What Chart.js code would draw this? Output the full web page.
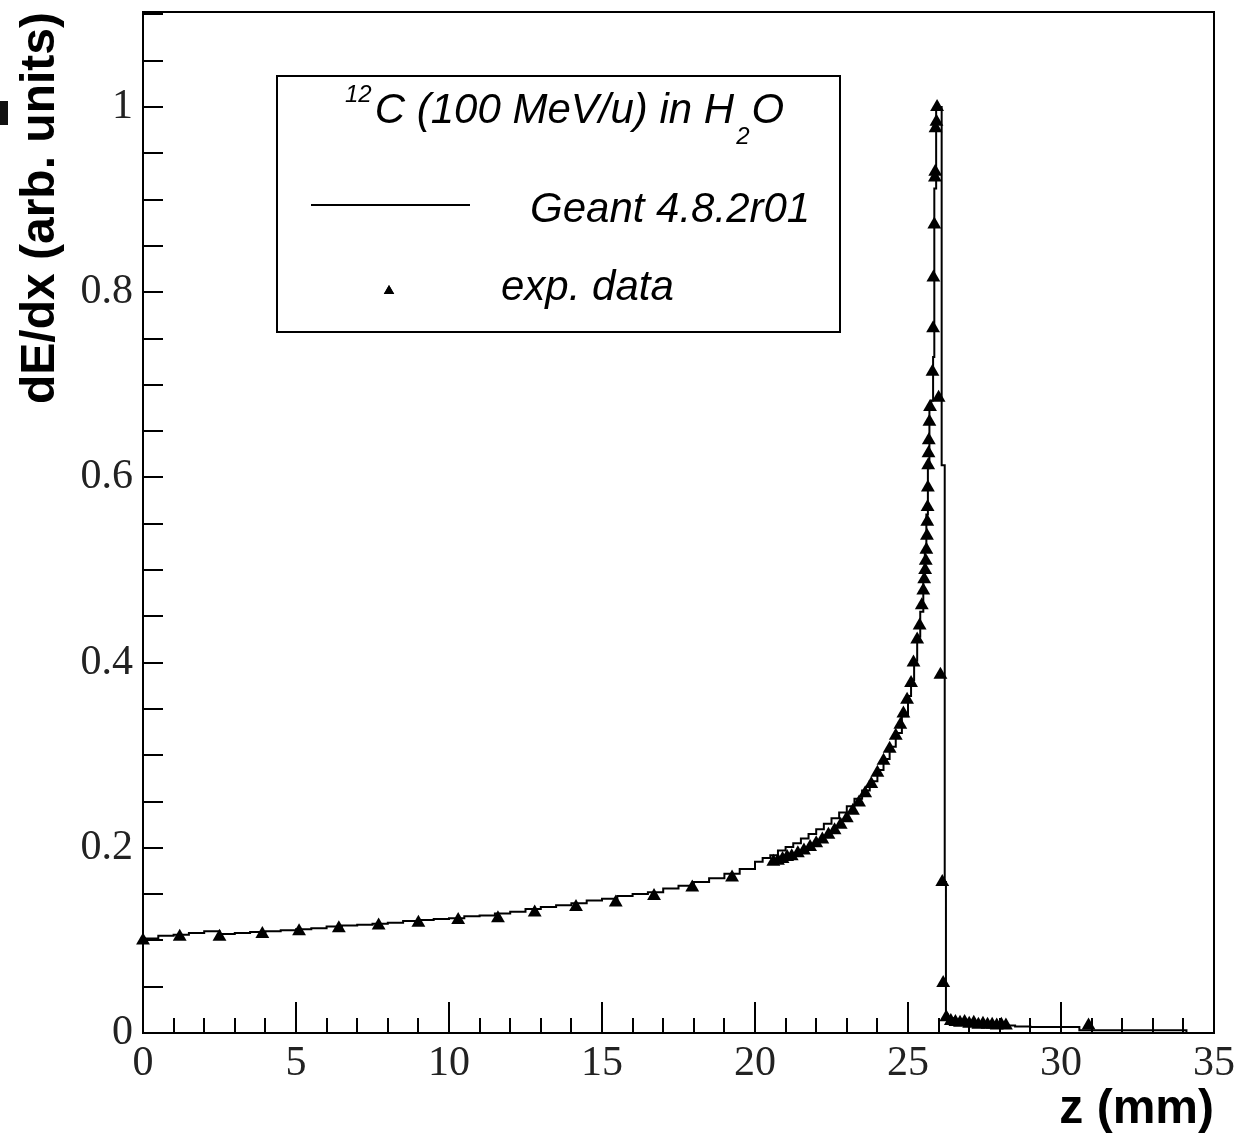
<!DOCTYPE html>
<html>
<head>
<meta charset="utf-8">
<script src="https://cdn.jsdelivr.net/npm/chart.js@4/dist/chart.umd.min.js"></script>
<style>
  html, body { margin: 0; padding: 0; background: #fff; }
  #wrap { width: 1241px; height: 1139px; position: relative; }
</style>
</head>
<body>
<div id="wrap"><canvas id="braggChart"></canvas></div>
<script>
// Geant histogram: low bin edges (mm) and bin contents
const geantEdges = [
    0, 0.5, 1, 1.5, 2, 2.5, 3, 3.5, 4, 4.5, 5, 5.5, 6, 6.5, 7, 7.5, 8, 8.5, 9, 9.5,
    10, 10.5, 11, 11.5, 12, 12.5, 13, 13.5, 14, 14.5, 15, 15.5, 16, 16.5, 17, 17.5, 18, 18.5, 19, 19.5,
    20, 20.25, 20.5, 20.75, 21, 21.25, 21.5, 21.75, 22, 22.25, 22.5, 22.75, 23, 23.25, 23.5, 23.75, 24,
    24.2, 24.4, 24.6, 24.8, 25, 25.1, 25.2, 25.3, 25.4, 25.5,
    25.55, 25.6, 25.65, 25.7, 25.76, 25.82, 25.86, 25.92,
    26.1, 26.2, 26.24, 26.3, 26.5, 27, 27.5, 28, 28.5, 29, 30.6, 34.1, 35
];
const geantValues = [
    0.102, 0.105, 0.106, 0.108, 0.110, 0.107, 0.108, 0.109, 0.110, 0.111,
    0.112, 0.113, 0.115, 0.116, 0.117, 0.118, 0.119, 0.121, 0.122, 0.123,
    0.124, 0.126, 0.127, 0.129, 0.131, 0.134, 0.136, 0.138, 0.140, 0.143,
    0.145, 0.148, 0.150, 0.152, 0.156, 0.159, 0.163, 0.167, 0.172, 0.177,
    0.185, 0.189, 0.192, 0.197, 0.201, 0.205, 0.210, 0.215, 0.220, 0.226, 0.232, 0.238, 0.245, 0.253, 0.262, 0.272, 0.284,
    0.296, 0.309, 0.324, 0.342, 0.364, 0.381, 0.402, 0.428, 0.455, 0.490,
    0.520, 0.560, 0.610, 0.675, 0.683, 0.730, 0.912, 1.0,
    0.613, 0.163, 0.020, 0.016, 0.014, 0.012, 0.010, 0.008, 0.007, 0.0065, 0.003, 0.0, 0.0
];

// donnees experimentales
const expZ = [
    0.0, 1.2, 2.5, 3.9, 5.1, 6.4, 7.7, 9.0, 10.3, 11.6, 12.8, 14.15, 15.45, 16.7, 17.95, 19.25,
    20.6, 20.75, 20.9, 21.05, 21.2, 21.4, 21.6, 21.8, 22.0, 22.2, 22.4, 22.6, 22.8, 23.0, 23.2,
    23.4, 23.6, 23.8, 24.0, 24.2, 24.4, 24.6, 24.75, 24.85, 24.97, 25.1, 25.18, 25.3, 25.38, 25.45,
    25.5, 25.53, 25.56, 25.58, 25.6, 25.62, 25.63, 25.64, 25.65, 25.66, 25.67, 25.68, 25.7, 25.72,
    25.8, 25.82, 25.83, 25.86, 25.88, 25.89, 25.9, 25.93, 25.95,
    26.0, 26.06, 26.12, 26.15,
    26.25, 26.4, 26.55, 26.7, 26.85, 27.0, 27.15, 27.3, 27.45, 27.6, 27.75, 27.9, 28.05, 28.2, 30.9
];
const expValues = [
    0.100, 0.104, 0.104, 0.107, 0.110, 0.113, 0.116, 0.119, 0.122, 0.124, 0.130, 0.136, 0.141, 0.148, 0.157, 0.168,
    0.185, 0.186, 0.188, 0.190, 0.191, 0.194, 0.197, 0.201, 0.205, 0.209, 0.214, 0.219, 0.225, 0.232, 0.240,
    0.249, 0.259, 0.269, 0.281, 0.294, 0.307, 0.321, 0.333, 0.345, 0.360, 0.378, 0.400, 0.425, 0.440, 0.462,
    0.478, 0.490, 0.500, 0.510, 0.522, 0.537, 0.552, 0.568, 0.589, 0.613, 0.626, 0.640, 0.660, 0.676,
    0.714, 0.761, 0.816, 0.873, 0.924, 0.930, 0.977, 0.984, 1.0,
    0.686, 0.387, 0.163, 0.054,
    0.017, 0.013, 0.012, 0.011, 0.012, 0.010, 0.011, 0.009, 0.010, 0.009, 0.009, 0.008, 0.009, 0.008, 0.008
];

const xTicks = [0, 5, 10, 15, 20, 25, 30, 35];
const yTicks = [0, 0.2, 0.4, 0.6, 0.8, 1];

const serif = "'Liberation Serif', 'Times New Roman', serif";
const sans = "'Liberation Sans', Arial, sans-serif";

// cadre + graduations vers l'interieur (style ROOT)
const cadrePlugin = {
    id: 'cadre',
    afterDatasetsDraw(chart) {
        const {ctx, chartArea: a, scales: {x, y}} = chart;
        ctx.save();
        ctx.strokeStyle = '#000';
        ctx.lineWidth = 2;
        ctx.strokeRect(a.left, a.top, a.right - a.left, a.bottom - a.top);
        ctx.beginPath();
        for (let v = x.min; v <= x.max; v += 1) {
            const px = Math.round(x.getPixelForValue(v));
            const len = v % 5 === 0 ? 31 : 15;
            ctx.moveTo(px, a.bottom);
            ctx.lineTo(px, a.bottom - len);
        }
        for (let i = 0; i * 0.05 <= y.max; i++) {
            const py = Math.round(y.getPixelForValue(i * 0.05));
            ctx.moveTo(a.left, py);
            ctx.lineTo(a.left + 20, py);
        }
        ctx.stroke();
        // petit carre noir en marge (present sur l'original)
        ctx.fillStyle = '#111';
        ctx.fillRect(0, 101, 8, 24);
        ctx.restore();
    }
};

// legende encadree
const legendePlugin = {
    id: 'legende',
    afterDraw(chart) {
        const ctx = chart.ctx;
        const ds = chart.data.datasets;
        ctx.save();
        ctx.fillStyle = '#fff';
        ctx.fillRect(277, 76, 563, 256);
        ctx.strokeStyle = '#000';
        ctx.lineWidth = 2;
        ctx.strokeRect(277, 76, 563, 256);

        ctx.fillStyle = '#000';
        ctx.textBaseline = 'alphabetic';
        ctx.textAlign = 'left';
        const big = 'italic 42px ' + sans;
        const small = 'italic 24px ' + sans;
        // titre : 12C (100 MeV/u) in H2O
        ctx.font = small;
        ctx.fillText('12', 345, 102);
        let xx = 345 + ctx.measureText('12').width + 3;
        ctx.font = big;
        const t1 = 'C (100 MeV/u) in H';
        ctx.fillText(t1, xx, 123);
        xx += ctx.measureText(t1).width + 2;
        ctx.font = small;
        ctx.fillText('2', xx, 144);
        xx += ctx.measureText('2').width + 2;
        ctx.font = big;
        ctx.fillText('O', xx, 123);

        // ligne Geant
        ctx.strokeStyle = ds[0].borderColor;
        ctx.lineWidth = ds[0].borderWidth;
        ctx.beginPath();
        ctx.moveTo(311, 205);
        ctx.lineTo(470, 205);
        ctx.stroke();
        ctx.font = big;
        ctx.fillText(ds[0].label, 530, 222);

        // triangle donnees exp.
        ctx.fillStyle = ds[1].backgroundColor;
        Chart.helpers.drawPoint(ctx, {pointStyle: 'triangle', radius: 6, borderWidth: 0}, 389, 291);
        ctx.fill();
        ctx.fillStyle = '#000';
        ctx.fillText(ds[1].label, 501, 300);
        ctx.restore();
    }
};

new Chart(document.getElementById('braggChart'), {
    type: 'scatter',
    data: {
        datasets: [
            {
                label: 'Geant 4.8.2r01',
                data: geantEdges.map((z, i) => ({x: z, y: geantValues[i]})),
                showLine: true,
                stepped: 'before',
                borderColor: '#000',
                borderWidth: 2,
                pointRadius: 0,
                fill: false,
                order: 2
            },
            {
                label: 'exp. data',
                data: expZ.map((z, i) => ({x: z, y: expValues[i]})),
                showLine: false,
                pointStyle: 'triangle',
                pointRadius: 8,
                backgroundColor: '#000',
                borderColor: '#000',
                borderWidth: 0,
                clip: false,
                order: 1
            }
        ]
    },
    options: {
        animation: false,
        responsive: true,
        maintainAspectRatio: false,
        devicePixelRatio: 1,
        layout: { padding: { left: 0, right: 27, top: 12, bottom: 0 } },
        plugins: {
            legend: { display: false },
            tooltip: { enabled: false }
        },
        scales: {
            x: {
                type: 'linear',
                min: 0,
                max: 35,
                afterBuildTicks: s => { s.ticks = xTicks.map(v => ({value: v})); },
                afterFit: s => { s.height = 106; s.paddingLeft = 0; s.paddingRight = 0; },
                grid: { display: false, drawTicks: false },
                border: { display: false },
                ticks: {
                    font: { family: serif, size: 42 },
                    color: '#222',
                    padding: 6,
                    maxRotation: 0,
                    autoSkip: false,
                    callback: v => String(v)
                },
                title: {
                    display: true,
                    text: 'z (mm)',
                    align: 'end',
                    color: '#000',
                    font: { family: sans, size: 48, weight: 'bold' },
                    padding: { top: 0, bottom: 0 }
                }
            },
            y: {
                type: 'linear',
                min: 0,
                max: 1.1026,
                afterBuildTicks: s => { s.ticks = yTicks.map(v => ({value: v})); },
                afterFit: s => { s.width = 143; s.paddingTop = 0; s.paddingBottom = 0; },
                grid: { display: false, drawTicks: false },
                border: { display: false },
                ticks: {
                    font: { family: serif, size: 42 },
                    color: '#222',
                    padding: 10,
                    autoSkip: false,
                    callback: v => String(v)
                },
                title: {
                    display: true,
                    text: 'dE/dx (arb. units)',
                    align: 'end',
                    color: '#000',
                    font: { family: sans, size: 48, weight: 'bold' },
                    padding: { top: 12, bottom: 0 }
                }
            }
        }
    },
    plugins: [cadrePlugin, legendePlugin]
});
</script>
</body>
</html>
